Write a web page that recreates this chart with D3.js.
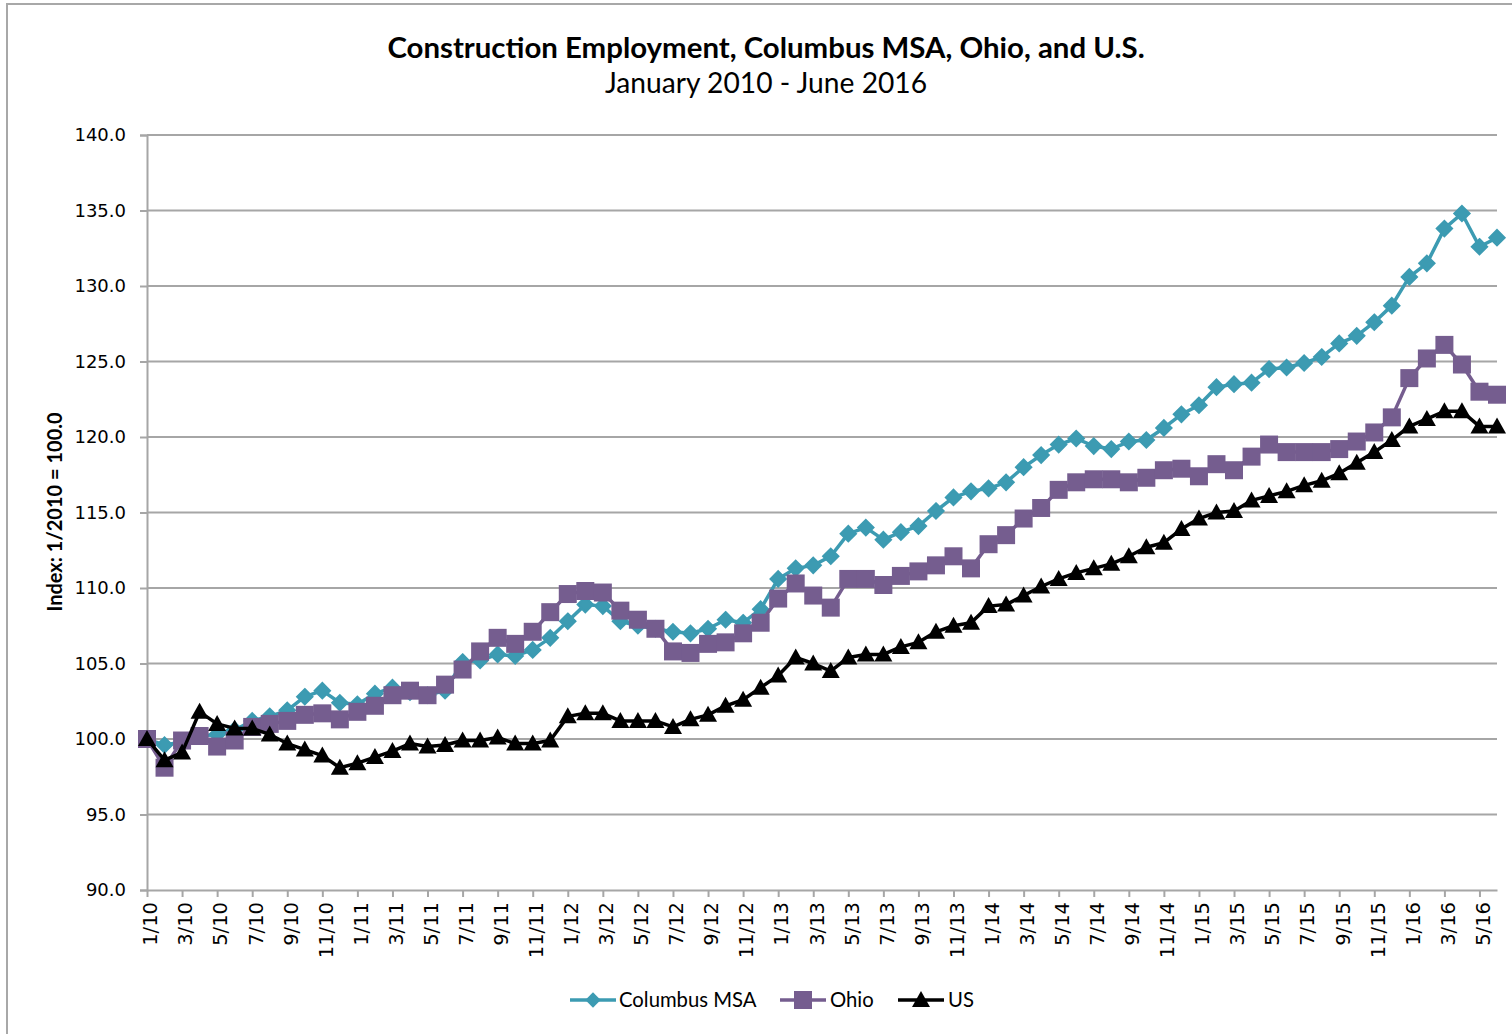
<!DOCTYPE html>
<html>
<head>
<meta charset="utf-8">
<script src="https://cdn.jsdelivr.net/npm/d3@7"></script>
<style>
  html, body { margin: 0; padding: 0; background: #ffffff; }
  svg { display: block; }
</style>
</head>
<body>
<svg id="chart" width="1512" height="1034"></svg>
<script>
const months = ["1/10","2/10","3/10","4/10","5/10","6/10","7/10","8/10","9/10","10/10","11/10","12/10",
  "1/11","2/11","3/11","4/11","5/11","6/11","7/11","8/11","9/11","10/11","11/11","12/11",
  "1/12","2/12","3/12","4/12","5/12","6/12","7/12","8/12","9/12","10/12","11/12","12/12",
  "1/13","2/13","3/13","4/13","5/13","6/13","7/13","8/13","9/13","10/13","11/13","12/13",
  "1/14","2/14","3/14","4/14","5/14","6/14","7/14","8/14","9/14","10/14","11/14","12/14",
  "1/15","2/15","3/15","4/15","5/15","6/15","7/15","8/15","9/15","10/15","11/15","12/15",
  "1/16","2/16","3/16","4/16","5/16","6/16"];

const xTickLabels = ["1/10","3/10","5/10","7/10","9/10","11/10","1/11","3/11","5/11","7/11","9/11","11/11",
  "1/12","3/12","5/12","7/12","9/12","11/12","1/13","3/13","5/13","7/13","9/13","11/13",
  "1/14","3/14","5/14","7/14","9/14","11/14","1/15","3/15","5/15","7/15","9/15","11/15",
  "1/16","3/16","5/16"];

const yTicks = [90,95,100,105,110,115,120,125,130,135,140];

const columbus = [100.0,99.6,99.8,100.2,100.3,100.6,101.2,101.5,101.9,102.8,103.2,102.4,
  102.3,103.0,103.4,103.1,102.9,103.2,105.1,105.2,105.6,105.5,105.9,106.7,
  107.8,108.9,108.8,107.8,107.5,107.3,107.1,107.0,107.3,107.9,107.7,108.6,
  110.6,111.3,111.5,112.1,113.6,114.0,113.2,113.7,114.1,115.1,116.0,116.4,
  116.6,117.0,118.0,118.8,119.5,119.9,119.4,119.2,119.7,119.8,120.6,121.5,
  122.1,123.3,123.5,123.6,124.5,124.6,124.9,125.3,126.2,126.7,127.6,128.7,
  130.6,131.5,133.8,134.8,132.6,133.2];

const ohio = [100.0,98.1,99.9,100.2,99.5,99.9,100.8,101.0,101.2,101.6,101.7,101.3,
  101.8,102.2,102.9,103.2,102.9,103.6,104.6,105.8,106.7,106.3,107.1,108.4,
  109.6,109.8,109.7,108.5,107.9,107.3,105.8,105.7,106.3,106.4,107.0,107.7,
  109.3,110.3,109.5,108.7,110.6,110.6,110.2,110.8,111.1,111.5,112.1,111.3,
  112.9,113.5,114.6,115.3,116.5,117.0,117.2,117.2,117.0,117.3,117.8,117.9,
  117.4,118.2,117.8,118.7,119.5,119.0,119.0,119.0,119.2,119.7,120.3,121.3,
  123.9,125.2,126.1,124.8,123.0,122.8];

const us = [100.0,98.6,99.1,101.8,101.0,100.7,100.7,100.3,99.7,99.3,98.9,98.1,
  98.4,98.8,99.2,99.7,99.5,99.6,99.9,99.9,100.1,99.7,99.7,99.9,
  101.5,101.7,101.7,101.2,101.2,101.2,100.8,101.3,101.6,102.2,102.6,103.4,
  104.2,105.4,105.0,104.5,105.4,105.6,105.6,106.1,106.4,107.1,107.5,107.7,
  108.8,108.9,109.5,110.1,110.6,111.0,111.3,111.6,112.1,112.7,113.0,113.9,
  114.6,115.0,115.1,115.8,116.1,116.4,116.8,117.1,117.6,118.3,119.0,119.8,
  120.7,121.2,121.7,121.7,120.7,120.7];

const seriesNames = ["Columbus MSA","Ohio","US"];
const seriesColors = ["#3c9bb2","#755d8f","#000000"];
const seriesShapes = ["diamond","square","triangle"];
const seriesData = [columbus, ohio, us];

const svg = d3.select("#chart");
const W = 1512, H = 1034;
const plot = {left: 147, right: 1497, top: 135, bottom: 890};

// outer frame
svg.append("rect").attr("x", 7).attr("y", 4).attr("width", W + 10).attr("height", H + 10)
  .attr("fill", "#ffffff").attr("stroke", "#a8a8a8").attr("stroke-width", 2);

const x = d3.scalePoint().domain(months).range([plot.left, plot.right]);
const y = d3.scaleLinear().domain([90, 140]).range([plot.bottom, plot.top]);

// gridlines
svg.append("g").selectAll("line").data(yTicks.filter(t => t > 90)).join("line")
  .attr("x1", plot.left).attr("x2", plot.right)
  .attr("y1", d => y(d)).attr("y2", d => y(d))
  .attr("stroke", "#a6a6a6").attr("stroke-width", 2);

// y axis
const yAxis = svg.append("g").attr("transform", `translate(${plot.left},0)`)
  .call(d3.axisLeft(y).tickValues(yTicks).tickFormat(d3.format(".1f")).tickSize(7).tickPadding(14));
yAxis.select(".domain").attr("stroke", "#a6a6a6").attr("stroke-width", 2);
yAxis.selectAll(".tick line").attr("stroke", "#a6a6a6").attr("stroke-width", 2);
yAxis.selectAll(".tick text").attr("font-family", "DejaVu Sans, Verdana, sans-serif")
  .attr("font-size", "18px").attr("fill", "#000");

// x axis
const xAxis = svg.append("g").attr("transform", `translate(0,${plot.bottom})`)
  .call(d3.axisBottom(x).tickValues(xTickLabels).tickSize(7).tickSizeOuter(0));
xAxis.select(".domain").attr("stroke", "#a6a6a6").attr("stroke-width", 2);
xAxis.selectAll(".tick line").attr("stroke", "#a6a6a6").attr("stroke-width", 2);
xAxis.selectAll(".tick text")
  .attr("font-family", "DejaVu Sans, Verdana, sans-serif")
  .attr("font-size", "19.5px").attr("fill", "#000")
  .attr("text-anchor", "end")
  .attr("dy", "0.35em")
  .attr("transform", "translate(3,12) rotate(-90)")
  .attr("x", 0).attr("y", 0);

// markers
function markerPath(shape) {
  if (shape === "diamond") return d3.symbol(d3.symbolDiamond2, 150)();
  if (shape === "square") return "M-9,-9H9V9H-9Z";
  return "M0,-9L9,7H-9Z";
}

seriesData.forEach((data, si) => {
  const line = d3.line().x((d, i) => x(months[i])).y(d => y(d));
  const g = svg.append("g");
  g.append("path").datum(data).attr("d", line)
    .attr("fill", "none").attr("stroke", seriesColors[si]).attr("stroke-width", 3.5)
    .attr("stroke-linejoin", "round");
  g.selectAll("path.m").data(data).join("path").attr("class", "m")
    .attr("d", markerPath(seriesShapes[si]))
    .attr("transform", (d, i) => `translate(${x(months[i])},${y(d)})`)
    .attr("fill", seriesColors[si])
    .attr("stroke", seriesColors[si]).attr("stroke-width", si === 0 ? 2 : 0);
});

// titles
svg.append("text").attr("x", 766).attr("y", 58).attr("text-anchor", "middle")
  .attr("font-family", "Lato, sans-serif").attr("font-weight", "bold").attr("font-size", "29.4px")
  .text("Construction Employment, Columbus MSA, Ohio, and U.S.");
svg.append("text").attr("x", 766).attr("y", 93).attr("text-anchor", "middle")
  .attr("font-family", "Lato, sans-serif").attr("font-size", "28.2px")
  .text("January 2010 - June 2016");

// y axis title
svg.append("text").attr("transform", "translate(62,512) rotate(-90)").attr("text-anchor", "middle")
  .attr("font-family", "Lato, sans-serif").attr("font-weight", "bold").attr("font-size", "20px")
  .text("Index: 1/2010 = 100.0");

// legend
const legendItems = [
  {x: 570, tx: 619},
  {x: 780, tx: 830},
  {x: 898, tx: 948}
];
const ly = 1000;
seriesNames.forEach((name, si) => {
  const it = legendItems[si];
  const g = svg.append("g");
  g.append("line").attr("x1", it.x).attr("x2", it.x + 46).attr("y1", ly).attr("y2", ly)
    .attr("stroke", seriesColors[si]).attr("stroke-width", 3.5);
  g.append("path").attr("d", markerPath(seriesShapes[si]))
    .attr("transform", `translate(${it.x + 23},${ly})`)
    .attr("fill", seriesColors[si]);
  g.append("text").attr("x", it.tx).attr("y", ly + 7)
    .attr("font-family", "Lato, sans-serif").attr("font-size", "20.3px").attr("fill", "#000")
    .text(name);
});
</script>
</body>
</html>
